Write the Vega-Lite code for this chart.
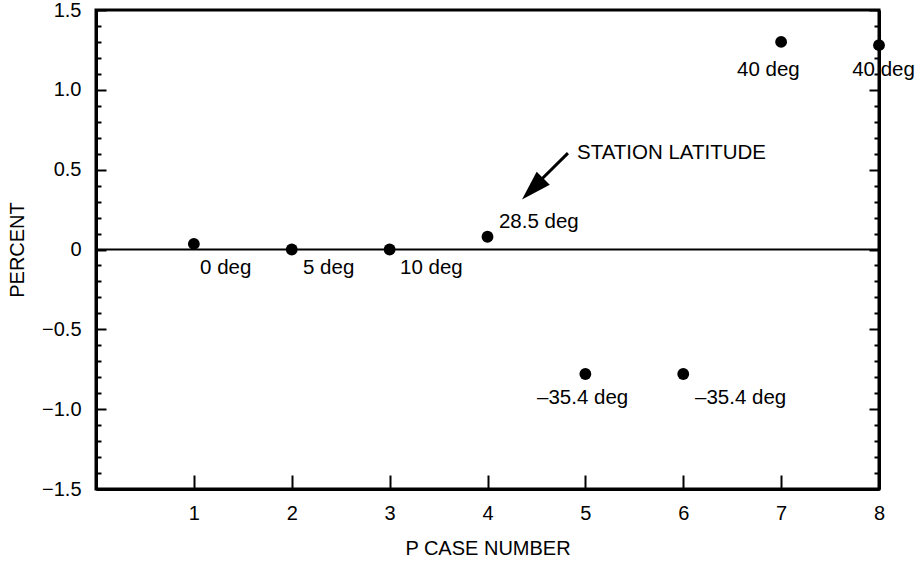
{
  "$schema": "https://vega.github.io/schema/vega-lite/v6.json",
  "width": 783,
  "height": 479,
  "autosize": "none",
  "padding": {"left": 96, "top": 10, "right": 40, "bottom": 74},
  "background": "white",
  "config": {
    "view": {"stroke": "black", "strokeWidth": 3},
    "font": "Liberation Sans",
    "axis": {
      "domainColor": "black", "domainWidth": 3, "tickColor": "black", "tickWidth": 2,
      "labelColor": "black", "titleColor": "black",
      "labelFont": "Liberation Sans", "titleFont": "Liberation Sans",
      "labelFontSize": 20, "titleFontSize": 20, "titleFontWeight": "normal",
      "grid": false, "labelOverlap": false, "labelBound": false, "labelFlush": false
    }
  },
  "datasets": {
    "points": [
      {"case": 1, "pct": 0.035},
      {"case": 2, "pct": 0.0},
      {"case": 3, "pct": 0.0},
      {"case": 4, "pct": 0.08},
      {"case": 5, "pct": -0.78},
      {"case": 6, "pct": -0.78},
      {"case": 7, "pct": 1.30},
      {"case": 8, "pct": 1.28}
    ],
    "labels": [
      {"lx": 1.063, "ly": -0.116, "text": "0 deg"},
      {"lx": 2.115, "ly": -0.116, "text": "5 deg"},
      {"lx": 3.106, "ly": -0.116, "text": "10 deg"},
      {"lx": 4.117, "ly": 0.172, "text": "28.5 deg"},
      {"lx": 4.506, "ly": -0.93, "text": "–35.4 deg"},
      {"lx": 6.12, "ly": -0.93, "text": "–35.4 deg"},
      {"lx": 6.549, "ly": 1.124, "text": "40 deg"},
      {"lx": 7.726, "ly": 1.124, "text": "40 deg"},
      {"lx": 4.914, "ly": 0.604, "text": "STATION LATITUDE"}
    ],
    "arrow": [{"ax": 4.822, "ay": 0.604, "bx": 4.47, "by": 0.39}],
    "arrowhead": [{"hx": 4.461, "hy": 0.38}],
    "zero": [{"zero": 0}]
  },
  "layer": [
    {
      "layer": [
        {
          "data": {"name": "points"},
          "mark": {"type": "point", "filled": true, "color": "black", "opacity": 1, "size": 140, "shape": "circle"},
          "encoding": {
            "x": {
              "field": "case", "type": "quantitative",
              "scale": {"domain": [0, 8], "nice": false, "zero": false},
              "axis": {"values": [1, 2, 3, 4, 5, 6, 7, 8], "format": "d", "tickSize": -14, "labelPadding": 28, "labelOverlap": false, "title": "P CASE NUMBER", "titlePadding": 15}
            },
            "y": {
              "field": "pct", "type": "quantitative",
              "scale": {"domain": [-1.5, 1.5], "nice": false, "zero": false},
              "axis": {
                "values": [-1.5, -1.0, -0.5, 0, 0.5, 1.0, 1.5],
                "tickSize": -10,
                "labelExpr": "datum.value == 0 ? '0' : format(datum.value, '.1f')",
                "labelOverlap": false,
                "labelPadding": 25,
                "title": "PERCENT",
                "titlePadding": 14
              }
            }
          }
        },
        {
          "data": {"name": "labels"},
          "mark": {"type": "text", "align": "left", "baseline": "middle", "fontSize": 20.5, "font": "Liberation Sans", "color": "black"},
          "encoding": {
            "x": {"field": "lx", "type": "quantitative"},
            "y": {"field": "ly", "type": "quantitative"},
            "text": {"field": "text"}
          }
        },
        {
          "data": {"name": "arrow"},
          "mark": {"type": "rule", "color": "black", "strokeWidth": 3},
          "encoding": {
            "x": {"field": "ax", "type": "quantitative"},
            "y": {"field": "ay", "type": "quantitative"},
            "x2": {"field": "bx"},
            "y2": {"field": "by"}
          }
        },
        {
          "data": {"name": "arrowhead"},
          "mark": {"type": "point", "filled": true, "color": "black", "opacity": 1, "size": 900, "angle": 225, "shape": "M0,-1L0.62,1L-0.62,1Z"},
          "encoding": {
            "x": {"field": "hx", "type": "quantitative"},
            "y": {"field": "hy", "type": "quantitative"}
          }
        }
      ]
    },
    {
      "data": {"name": "zero"},
      "mark": {"type": "rule", "color": "black", "strokeWidth": 2},
      "encoding": {
        "y": {
          "field": "zero", "type": "quantitative",
          "scale": {"domain": [-1.5, 1.5], "nice": false, "zero": false},
          "axis": {
            "orient": "right",
            "values": [-1.5, -1.0, -0.5, 0, 0.5, 1.0, 1.5],
            "tickSize": -10,
            "labels": false,
            "title": null
          }
        }
      }
    },
    {
      "data": {"name": "zero"},
      "mark": {"type": "rule", "color": "black", "strokeWidth": 2, "opacity": 0},
      "encoding": {
        "y": {
          "field": "zero", "type": "quantitative",
          "scale": {"domain": [-1.5, 1.5], "nice": false, "zero": false},
          "axis": {
            "orient": "left",
            "values": [-1.4, -1.3, -1.2, -1.1, -0.9, -0.8, -0.7, -0.6, -0.4, -0.3, -0.2, -0.1, 0.1, 0.2, 0.3, 0.4, 0.6, 0.7, 0.8, 0.9, 1.1, 1.2, 1.3, 1.4],
            "tickSize": -5,
            "labels": false,
            "domain": false,
            "title": null
          }
        }
      }
    },
    {
      "data": {"name": "zero"},
      "mark": {"type": "rule", "color": "black", "strokeWidth": 2, "opacity": 0},
      "encoding": {
        "y": {
          "field": "zero", "type": "quantitative",
          "scale": {"domain": [-1.5, 1.5], "nice": false, "zero": false},
          "axis": {
            "orient": "right",
            "values": [-1.4, -1.3, -1.2, -1.1, -0.9, -0.8, -0.7, -0.6, -0.4, -0.3, -0.2, -0.1, 0.1, 0.2, 0.3, 0.4, 0.6, 0.7, 0.8, 0.9, 1.1, 1.2, 1.3, 1.4],
            "tickSize": -5,
            "labels": false,
            "domain": false,
            "title": null
          }
        }
      }
    }
  ],
  "resolve": {"scale": {"y": "independent"}}
}
